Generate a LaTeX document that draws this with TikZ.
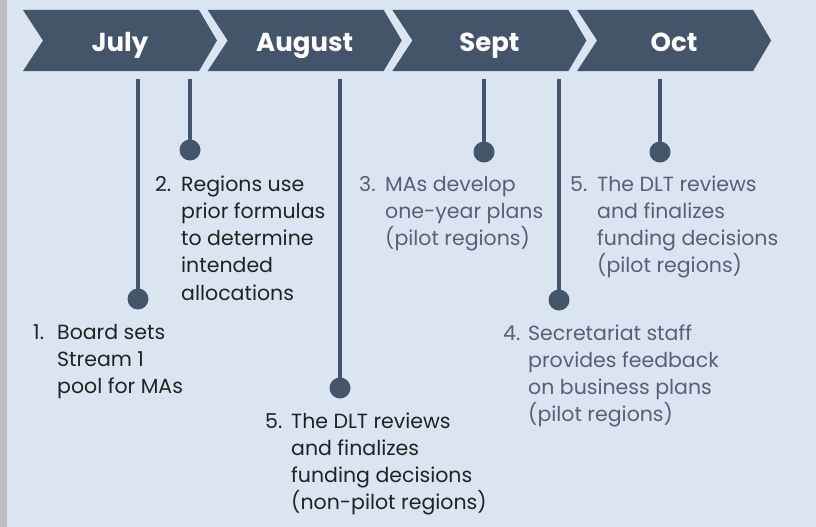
\documentclass[tikz,border=0pt]{standalone}
\usepackage{fontspec}
\setmainfont{Poppins}
\usepackage{tikz}
\usetikzlibrary{positioning}
\definecolor{slate}{HTML}{44546A}
\definecolor{paleblue}{HTML}{DBE5F1}
\definecolor{framegray}{HTML}{BFBFBF}
\definecolor{darktext}{HTML}{222222}
\definecolor{softtext}{HTML}{56607A}

\begin{document}
\begin{tikzpicture}[x=1pt,y=-1pt,
    month/.style={text=white, font=\fontsize{26}{30}\selectfont\bfseries, anchor=base},
    stem/.style={draw=slate, line width=4.6pt},
    dot/.style={circle, fill=slate, minimum size=21pt, inner sep=0pt},
    task/.style={anchor=base west, inner sep=0pt, font=\fontsize{20.5}{27.3}\selectfont},
    done/.style={task, text=darktext},
    pilot/.style={task, text=softtext}]
  % Sizes
  \pgfmathsetmacro{\pitch}{184.7}
  \pgfmathsetmacro{\chevlen}{176}
  \pgfmathsetmacro{\tip}{18}
  \pgfmathsetmacro{\notch}{20}
  % background
  \fill[paleblue] (0,0) rectangle (816,527);
  \fill[framegray] (0,0) rectangle (7,527);
  \useasboundingbox (0,0) rectangle (816,527);

  % months
  \foreach \m [count=\i from 0] in {July,August,Sept,Oct} {
    \pgfmathsetmacro{\xo}{23+\pitch*\i}
    \fill[slate] (\xo,10) -- ++(\chevlen,0) -- ++(\tip,30.5) -- ++(-\tip,30.5)
      -- ++(-\chevlen,0) -- ++(\notch,-30.5) -- cycle;
    \node[month] (m\i) at (\xo+97,52) {\m};
  }

  % stems
  \coordinate (s1) at (138,79);
  \coordinate (s2) at (190,79);
  \coordinate (s3) at (340,79);
  \coordinate (s4) at (484,79);
  \coordinate (s5) at (559,79);
  \coordinate (s6) at (660,79);
  \node[dot] (d1) at (138,299) {};
  \node[dot] (d2) at (190,150) {};
  \node[dot] (d3) at (340,388) {};
  \node[dot] (d4) at (484,152) {};
  \node[dot] (d5) at (559,300) {};
  \node[dot] (d6) at (660,152) {};
  \foreach \k in {1,...,6}
    \draw[stem] (s\k) -- (d\k.center);

  % labels
  \node[done] (board) at (33,339) {\begin{tabular}[t]{@{}p{24pt}@{}l@{}}
    1. & Board sets\\ & Stream 1\\ & pool for MAs\end{tabular}};
  \node[done] (regions) at (155,191) {\begin{tabular}[t]{@{}p{26pt}@{}l@{}}
    2. & Regions use\\ & prior formulas\\ & to determine\\ & intended\\ & allocations\end{tabular}};
  \node[pilot] (plans) at (359,191) {\begin{tabular}[t]{@{}p{26pt}@{}l@{}}
    3. & MAs develop\\ & one-year plans\\ & (pilot regions)\end{tabular}};
  \node[pilot] (feedback) at (503,340) {\begin{tabular}[t]{@{}p{25pt}@{}l@{}}
    4. & Secretariat staff\\ & provides feedback\\ & on business plans\\ & (pilot regions)\end{tabular}};
  \node[pilot] (dltpilot) at (570,191) {\begin{tabular}[t]{@{}p{27pt}@{}l@{}}
    5. & The DLT reviews\\ & and finalizes\\ & funding decisions\\ & (pilot regions)\end{tabular}};
  \node[done] (dltother) at (265,428) {\begin{tabular}[t]{@{}p{26pt}@{}l@{}}
    5. & The DLT reviews\\ & and finalizes\\ & funding decisions\\ & (non-pilot regions)\end{tabular}};
\end{tikzpicture}
\end{document}
